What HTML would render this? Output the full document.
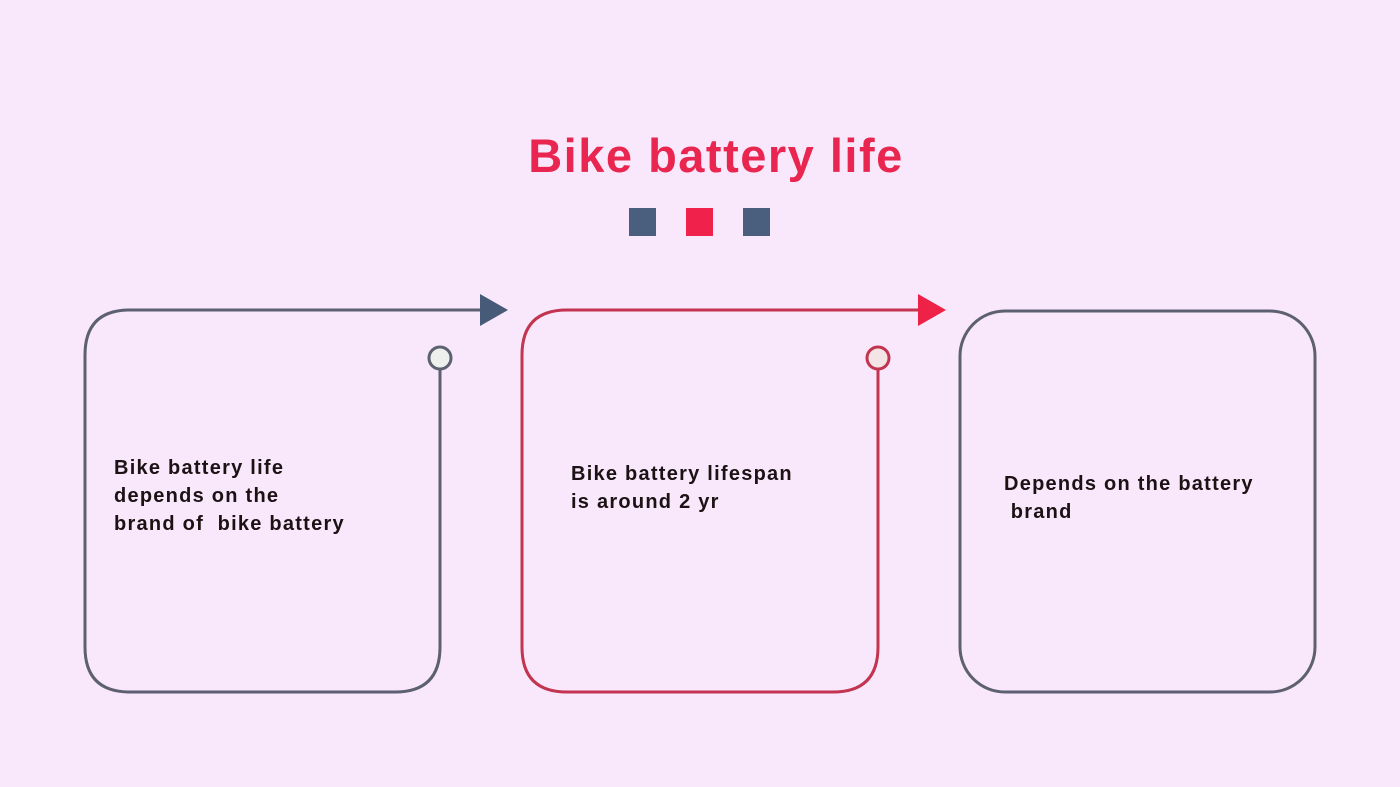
<!DOCTYPE html>
<html><head><style>
body{margin:0;width:1400px;height:787px;background:#f9e8fb;overflow:hidden;position:relative;font-family:"Liberation Sans",sans-serif}
.t{position:absolute;font-weight:bold;font-size:20px;letter-spacing:1.25px;line-height:28px;color:#1c1214;white-space:pre}
</style></head><body>
<svg width="1400" height="787" style="position:absolute;left:0;top:0">
<g fill="none" stroke-width="3">
<path d="M440 369 V647 Q440 692 395 692 H130 Q85 692 85 647 V355 Q85 310 130 310 H482" stroke="#5d6070"/>
<path d="M878 369 V647 Q878 692 833 692 H567 Q522 692 522 647 V355 Q522 310 567 310 H920" stroke="#c2344f"/>
<rect x="960" y="311" width="355" height="381" rx="45" stroke="#5d6070"/>
<circle cx="440" cy="358" r="11" fill="#eef0ee" stroke="#5d6070"/>
<circle cx="878" cy="358" r="11" fill="#f3e5e5" stroke="#c2344f"/>
</g>
<polygon points="480,294 508,310 480,326" fill="#475a78"/>
<polygon points="918,294 946,310 918,326" fill="#ee2146"/>
<rect x="629" y="208" width="27" height="28" fill="#4a5f7e"/>
<rect x="686" y="208" width="27" height="28" fill="#f0224c"/>
<rect x="743" y="208" width="27" height="28" fill="#4a5f7e"/>
<text x="716" y="172" text-anchor="middle" font-family="Liberation Sans" font-weight="bold" font-size="47" letter-spacing="1.5" fill="#e8264f">Bike battery life</text>
</svg>
<div class="t" style="left:114px;top:454px">Bike battery life
depends on the
brand of  bike battery</div>
<div class="t" style="left:571px;top:460px">Bike battery lifespan
is around 2 yr</div>
<div class="t" style="left:1004px;top:470px">Depends on the battery
 brand</div>
</body></html>
